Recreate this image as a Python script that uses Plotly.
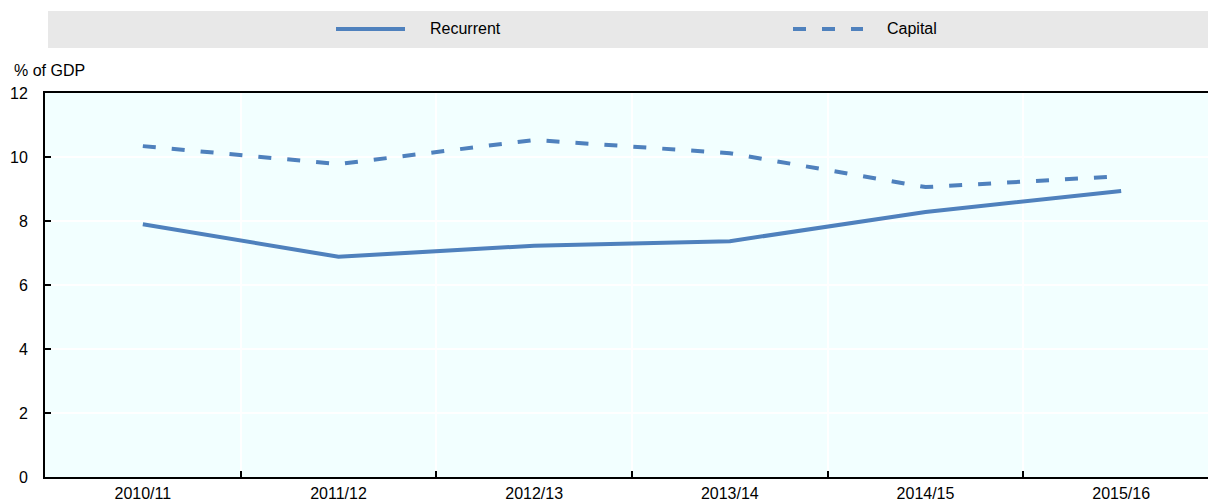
import plotly.graph_objects as go

categories = ["2010/11", "2011/12", "2012/13", "2013/14", "2014/15", "2015/16"]
recurrent = [7.9, 6.88, 7.23, 7.37, 8.28, 8.94]
capital = [10.34, 9.78, 10.53, 10.12, 9.06, 9.4]
y_ticks = [0, 2, 4, 6, 8, 10, 12]

COLOR = "#4F81BD"
FONT = "Liberation Sans, Arial, sans-serif"
x = list(range(len(categories)))

fig = go.Figure()
fig.add_trace(go.Scatter(x=x, y=recurrent, mode="lines", name="Recurrent",
                         line=dict(color=COLOR, width=4), showlegend=False,
                         hoverinfo="skip"))
fig.add_trace(go.Scatter(x=x, y=capital, mode="lines", name="Capital",
                         line=dict(color=COLOR, width=4, dash="13px,16px"), showlegend=False,
                         hoverinfo="skip"))

n = len(categories)
fig.update_layout(
    width=1208, height=502,
    margin=dict(l=45, r=0, t=93, b=25),
    paper_bgcolor="white",
    plot_bgcolor="#F2FFFF",
    font=dict(family=FONT, size=16, color="black"),
    xaxis=dict(
        range=[-0.5, n - 0.5 - 11 / 195.7],
        tickvals=x, ticktext=categories,
        showgrid=False, ticks="", zeroline=False,
        showline=True, linecolor="black", linewidth=2, mirror=True,
        minor=dict(tickvals=[i + 0.5 for i in range(n - 1)], showgrid=True,
                   gridcolor="white", gridwidth=1.5, ticks="inside",
                   ticklen=6, tickcolor="black", tickwidth=2),
        tickfont=dict(size=16),
        ticklabelstandoff=1,
    ),
    yaxis=dict(
        range=[0, 12], tickvals=y_ticks,
        showgrid=True, gridcolor="white", gridwidth=1.5,
        ticks="inside", ticklen=6, tickcolor="black", tickwidth=2,
        zeroline=False, showline=True, linecolor="black", linewidth=2,
        mirror=False,
        ticklabelstandoff=12,
        tickfont=dict(size=16),
    ),
)

PW, PH = 1163, 384

def px_x(v):
    return (v - 45) / PW

def px_y(v):
    return (477 - v) / PH

# legend band
fig.add_shape(type="rect", xref="paper", yref="paper",
              x0=px_x(48), x1=px_x(1210), y0=px_y(48), y1=px_y(11),
              fillcolor="#E8E8E8", line=dict(width=0), layer="below")

fig.add_shape(type="line", xref="paper", yref="paper",
              x0=px_x(336), x1=px_x(405), y0=px_y(29), y1=px_y(29),
              line=dict(color=COLOR, width=4))
fig.add_shape(type="line", xref="paper", yref="paper",
              x0=px_x(793), x1=px_x(863), y0=px_y(29), y1=px_y(29),
              line=dict(color=COLOR, width=4, dash="13px,16px"))
fig.add_annotation(text="Recurrent", xref="paper", yref="paper",
                   x=px_x(428), y=px_y(29), xanchor="left", yanchor="middle",
                   showarrow=False, font=dict(size=16))
fig.add_annotation(text="Capital", xref="paper", yref="paper",
                   x=px_x(885), y=px_y(29), xanchor="left", yanchor="middle",
                   showarrow=False, font=dict(size=16))
fig.add_annotation(text="% of GDP", xref="paper", yref="paper",
                   x=px_x(12), y=px_y(71), xanchor="left", yanchor="middle",
                   showarrow=False, font=dict(size=16))

fig.write_html(
    "out.html",
    config={"displayModeBar": False},
    post_script="document.body.style.margin='0';document.body.style.overflow='hidden';",
)
